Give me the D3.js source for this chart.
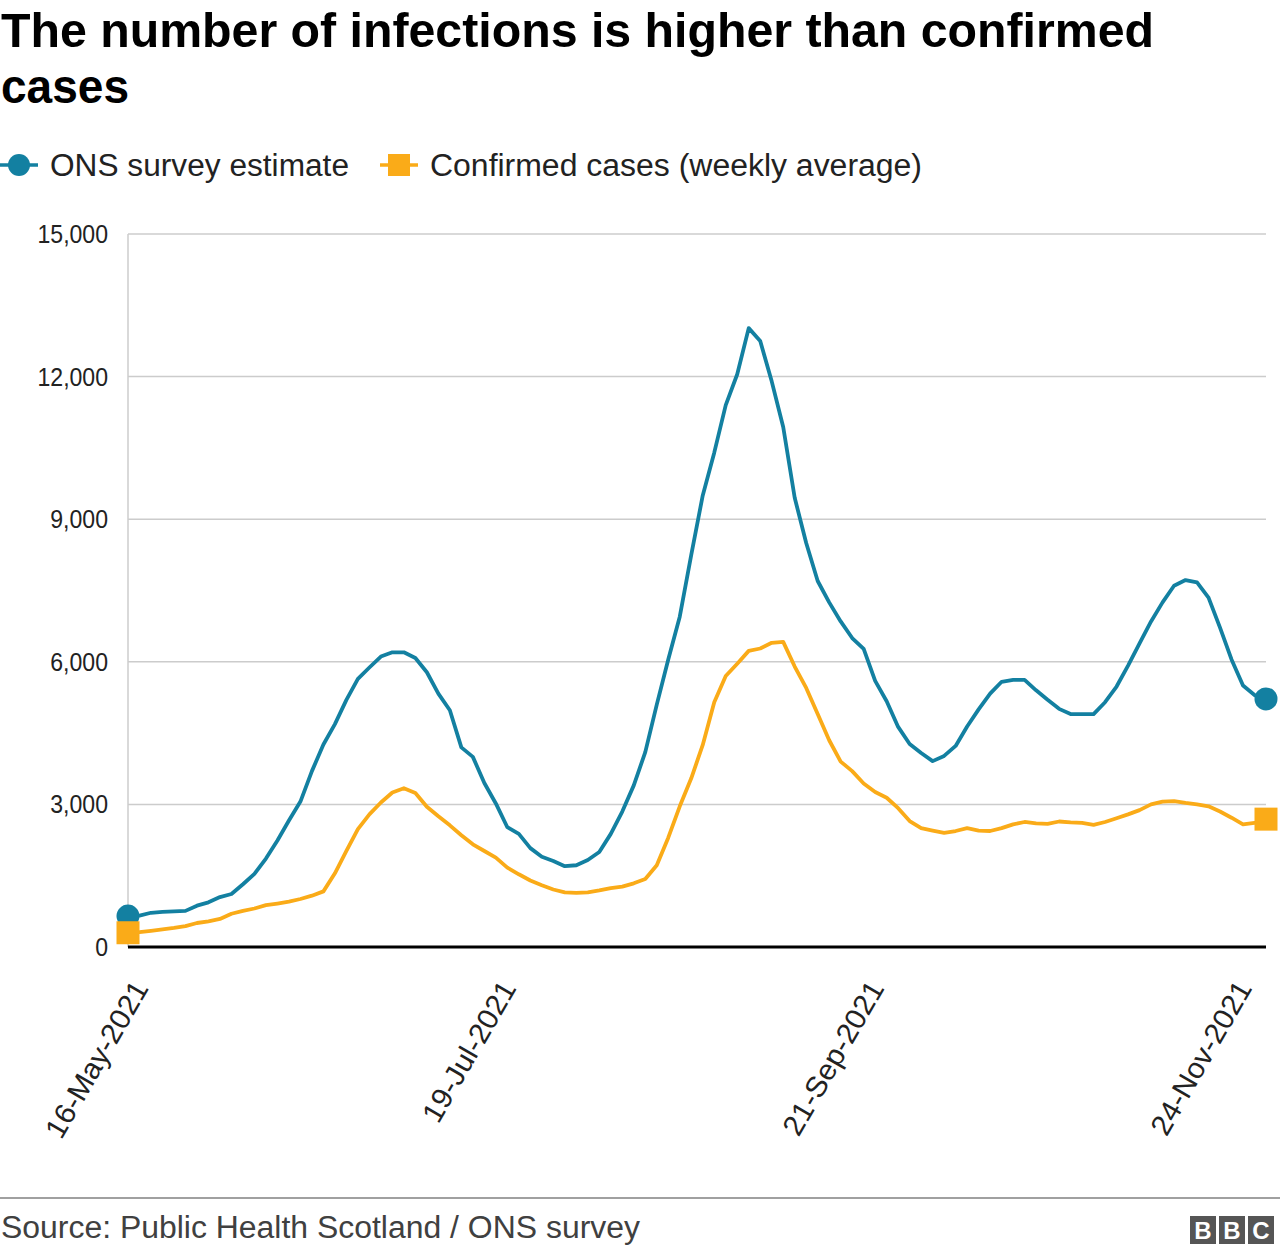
<!DOCTYPE html>
<html>
<head>
<meta charset="utf-8">
<script src="https://cdn.jsdelivr.net/npm/d3@7"></script>
<style>
  html, body { margin: 0; padding: 0; background: #fff; }
  svg { display: block; font-family: "Liberation Sans", Arial, Helvetica, sans-serif; }
</style>
</head>
<body>
<svg id="chart" width="1280" height="1254"></svg>
<script>
// ---- Data ----
const startDate = "2021-05-16";
const dayStep = 2; // observations every 2 days
const onsEstimate = [650, 660, 720, 740, 750, 760, 870, 940, 1050, 1115,
  1320, 1540, 1860, 2240, 2660, 3060, 3700, 4260, 4690, 5200,
  5640, 5880, 6110, 6200, 6200, 6080, 5780, 5330, 4980, 4200,
  4000, 3450, 3020, 2520, 2380, 2080, 1900, 1810, 1700, 1720,
  1830, 2000, 2380, 2850, 3400, 4100, 5100, 6050, 6950, 8250,
  9500, 10400, 11400, 12050, 13020, 12750, 11900, 10940, 9450, 8500,
  7700, 7250, 6850, 6500, 6270, 5600, 5170, 4630, 4270, 4080,
  3910, 4020, 4230, 4640, 5000, 5330, 5580, 5620, 5620, 5400,
  5200, 5010, 4900, 4900, 4900, 5150, 5480, 5920, 6390, 6850,
  7250, 7600, 7720, 7670, 7350, 6720, 6050, 5500, 5300, 5220];
const confirmedCases = [300, 315, 340, 370, 400, 440, 505, 540, 590, 700,
  760, 810, 880, 915, 955, 1010, 1080, 1170, 1550, 2020,
  2480, 2790, 3040, 3250, 3340, 3240, 2950, 2750, 2560, 2350,
  2160, 2020, 1880, 1670, 1530, 1400, 1300, 1210, 1150, 1140,
  1150, 1190, 1240, 1270, 1340, 1430, 1720, 2300, 2960, 3550,
  4250, 5150, 5700, 5960, 6230, 6280, 6400, 6420, 5900, 5450,
  4900, 4350, 3900, 3700, 3440, 3260, 3140, 2920, 2650, 2500,
  2450, 2400, 2440, 2500, 2450, 2440, 2500, 2580, 2630, 2600,
  2590, 2640, 2620, 2610, 2570, 2630, 2710, 2790, 2880, 3000,
  3060, 3070, 3030, 3000, 2960, 2850, 2720, 2580, 2610, 2690];
const yTicks = [0, 3000, 6000, 9000, 12000, 15000];
const xTickLabels = ["16-May-2021", "19-Jul-2021", "21-Sep-2021", "24-Nov-2021"];
const seriesNames = ["ONS survey estimate", "Confirmed cases (weekly average)"];

// ---- Setup ----
const parse = d3.timeParse("%Y-%m-%d");
const parseTick = d3.timeParse("%d-%b-%Y");
const fmtTick = d3.timeFormat("%d-%b-%Y");
const start = parse(startDate);
const dates = onsEstimate.map((_, i) => d3.timeDay.offset(start, i * dayStep));
const onsData = onsEstimate.map((v, i) => ({ date: dates[i], value: v }));
const confData = confirmedCases.map((v, i) => ({ date: dates[i], value: v }));

const blue = "#1380A1", orange = "#FAAB18";
const svg = d3.select("#chart");
const pL = 128, pR = 1266, pT = 234, pB = 947;

const x = d3.scaleTime().domain([dates[0], dates[dates.length - 1]]).range([pL, pR]);
const y = d3.scaleLinear().domain([0, 15000]).range([pB, pT]);

// narrow text horizontally by a factor (reference font is slightly condensed)
function squeeze(sel, factor) {
  sel.each(function () {
    const w = this.getComputedTextLength();
    d3.select(this).attr("textLength", w * factor).attr("lengthAdjust", "spacingAndGlyphs");
  });
}

// ---- Title ----
const title = svg.append("text").attr("font-size", 48).attr("font-weight", "bold").attr("fill", "#000");
title.append("tspan").attr("x", 1).attr("y", 47).attr("textLength", 1153).attr("lengthAdjust", "spacingAndGlyphs")
  .text("The number of infections is higher than confirmed");
title.append("tspan").attr("x", 1).attr("y", 103).attr("textLength", 128).attr("lengthAdjust", "spacingAndGlyphs")
  .text("cases");

// ---- Legend ----
const lg = svg.append("g").attr("font-size", 31).attr("fill", "#222");
lg.append("line").attr("x1", 0).attr("x2", 38).attr("y1", 165).attr("y2", 165)
  .attr("stroke", blue).attr("stroke-width", 3.5);
lg.append("circle").attr("cx", 19).attr("cy", 165).attr("r", 11).attr("fill", blue);
lg.append("text").attr("x", 50).attr("y", 176).attr("textLength", 299).attr("lengthAdjust", "spacingAndGlyphs")
  .text(seriesNames[0]);
lg.append("line").attr("x1", 380).attr("x2", 418).attr("y1", 165).attr("y2", 165)
  .attr("stroke", orange).attr("stroke-width", 3.5);
lg.append("rect").attr("x", 388).attr("y", 154).attr("width", 22).attr("height", 22).attr("fill", orange);
lg.append("text").attr("x", 430).attr("y", 176).attr("textLength", 492).attr("lengthAdjust", "spacingAndGlyphs")
  .text(seriesNames[1]);

// ---- Y axis & grid ----
const yAxis = d3.axisLeft(y).tickValues(yTicks).tickFormat(d3.format(",")).tickSize(0).tickPadding(20);
const yg = svg.append("g").attr("transform", `translate(${pL},0)`).call(yAxis);
yg.select(".domain").remove();
yg.selectAll("text").attr("font-size", 26.5).attr("fill", "#222").attr("font-family", "Liberation Sans, Arial, sans-serif");
squeeze(yg.selectAll("text"), 0.87);

const grid = svg.append("g");
grid.selectAll("line").data(yTicks.filter(t => t > 0)).join("line")
  .attr("x1", pL).attr("x2", pR)
  .attr("y1", d => y(d)).attr("y2", d => y(d))
  .attr("stroke", "#cccccc").attr("stroke-width", 1.5);
svg.append("line").attr("x1", pL).attr("x2", pL).attr("y1", pT).attr("y2", pB)
  .attr("stroke", "#cccccc").attr("stroke-width", 1.5);

// ---- X axis ----
const xTicks = xTickLabels.map(s => parseTick(s));
const xAxis = d3.axisBottom(x).tickValues(xTicks).tickFormat(fmtTick).tickSize(0).tickPadding(0);
const xg = svg.append("g").attr("transform", `translate(0,${pB})`).call(xAxis);
xg.select(".domain").remove();
xg.selectAll("text")
  .attr("font-size", 29).attr("fill", "#222").attr("font-family", "Liberation Sans, Arial, sans-serif")
  .attr("text-anchor", "end").attr("dy", "0.35em")
  .attr("transform", "translate(12,36) rotate(-60)");
squeeze(xg.selectAll("text"), 1.03);

// ---- Lines ----
const line = d3.line().x(d => x(d.date)).y(d => y(d.value));
svg.append("path").datum(confData).attr("d", line)
  .attr("fill", "none").attr("stroke", orange).attr("stroke-width", 3.8).attr("stroke-linejoin", "round");
svg.append("path").datum(onsData).attr("d", line)
  .attr("fill", "none").attr("stroke", blue).attr("stroke-width", 3.8).attr("stroke-linejoin", "round");

// baseline
svg.append("line").attr("x1", pL).attr("x2", pR).attr("y1", pB).attr("y2", pB)
  .attr("stroke", "#000").attr("stroke-width", 3);

// ---- End markers ----
[onsData[0], onsData[onsData.length - 1]].forEach(d => {
  svg.append("circle").attr("cx", x(d.date)).attr("cy", y(d.value)).attr("r", 11.5).attr("fill", blue);
});
[confData[0], confData[confData.length - 1]].forEach(d => {
  svg.append("rect").attr("x", x(d.date) - 11.5).attr("y", y(d.value) - 11.5)
    .attr("width", 23).attr("height", 23).attr("fill", orange);
});

// ---- Footer ----
svg.append("line").attr("x1", 0).attr("x2", 1280).attr("y1", 1198).attr("y2", 1198)
  .attr("stroke", "#808080").attr("stroke-width", 1.5);
svg.append("text").attr("x", 1).attr("y", 1238).attr("font-size", 31).attr("fill", "#404040")
  .attr("textLength", 639).attr("lengthAdjust", "spacingAndGlyphs")
  .text("Source: Public Health Scotland / ONS survey");
const bbc = svg.append("g").attr("transform", "translate(1190,1216)");
["B", "B", "C"].forEach((c, i) => {
  bbc.append("rect").attr("x", i * 29).attr("y", 0).attr("width", 26).attr("height", 28).attr("fill", "#555");
  bbc.append("text").attr("x", i * 29 + 13).attr("y", 23).attr("text-anchor", "middle")
    .attr("font-size", 24).attr("font-weight", "bold").attr("fill", "#fff").text(c);
});
</script>
</body>
</html>
